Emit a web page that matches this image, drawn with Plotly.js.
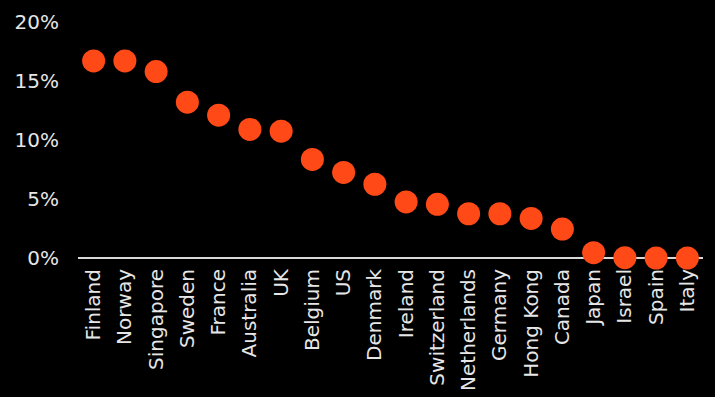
<!DOCTYPE html>
<html>
<head>
<meta charset="utf-8">
<script src="https://cdn.plot.ly/plotly-3.0.1.min.js"></script>
<style>
  html, body { margin: 0; padding: 0; background: #000; }
  #chart { width: 715px; height: 397px; }
</style>
</head>
<body>
<div id="chart"></div>
<script>
// Countries, ordered from highest to lowest share
const countries = [
  "Finland", "Norway", "Singapore", "Sweden", "France", "Australia", "UK",
  "Belgium", "US", "Denmark", "Ireland", "Switzerland", "Netherlands",
  "Germany", "Hong Kong", "Canada", "Japan", "Israel", "Spain", "Italy"
];

// Share for each country, in percent
const shares = [
  16.7, 16.7, 15.8, 13.2, 12.1, 10.9, 10.75,
  8.35, 7.25, 6.25, 4.75, 4.55, 3.75,
  3.75, 3.35, 2.45, 0.45, 0.03, 0.0, 0.0
];

// Y-axis ticks
const yTicks = [0, 5, 10, 15, 20];
const yTickLabels = ["0%", "5%", "10%", "15%", "20%"];

const trace = {
  type: "scatter",
  mode: "markers",
  x: countries,
  y: shares,
  cliponaxis: false,
  marker: { size: 23, color: "#ff4a17", line: { width: 0 } },
  hoverinfo: "x+y"
};

const layout = {
  width: 715,
  height: 397,
  margin: { l: 78.4, r: 11.6, t: 22, b: 139 },
  paper_bgcolor: "#000000",
  plot_bgcolor: "#000000",
  font: { family: "DejaVu Sans, sans-serif", size: 20, color: "#e6e6e6" },
  showlegend: false,
  xaxis: {
    type: "category",
    range: [-0.5, 19.5],
    tickangle: -90,
    showgrid: false,
    zeroline: false,
    showline: false,
    ticks: "",
    ticklabelstandoff: 6,
    tickfont: { family: "DejaVu Sans, sans-serif", size: 20, color: "#e6e6e6" },
    fixedrange: true
  },
  yaxis: {
    range: [0, 20],
    tickvals: yTicks,
    ticktext: yTickLabels,
    showgrid: false,
    zeroline: true,
    zerolinecolor: "#d9d9d9",
    zerolinewidth: 2,
    showline: false,
    ticks: "",
    ticklabelstandoff: 18,
    tickfont: { family: "DejaVu Sans, sans-serif", size: 20, color: "#e6e6e6" },
    fixedrange: true
  }
};

Plotly.newPlot("chart", [trace], layout, { displayModeBar: false, staticPlot: true });
</script>
</body>
</html>
